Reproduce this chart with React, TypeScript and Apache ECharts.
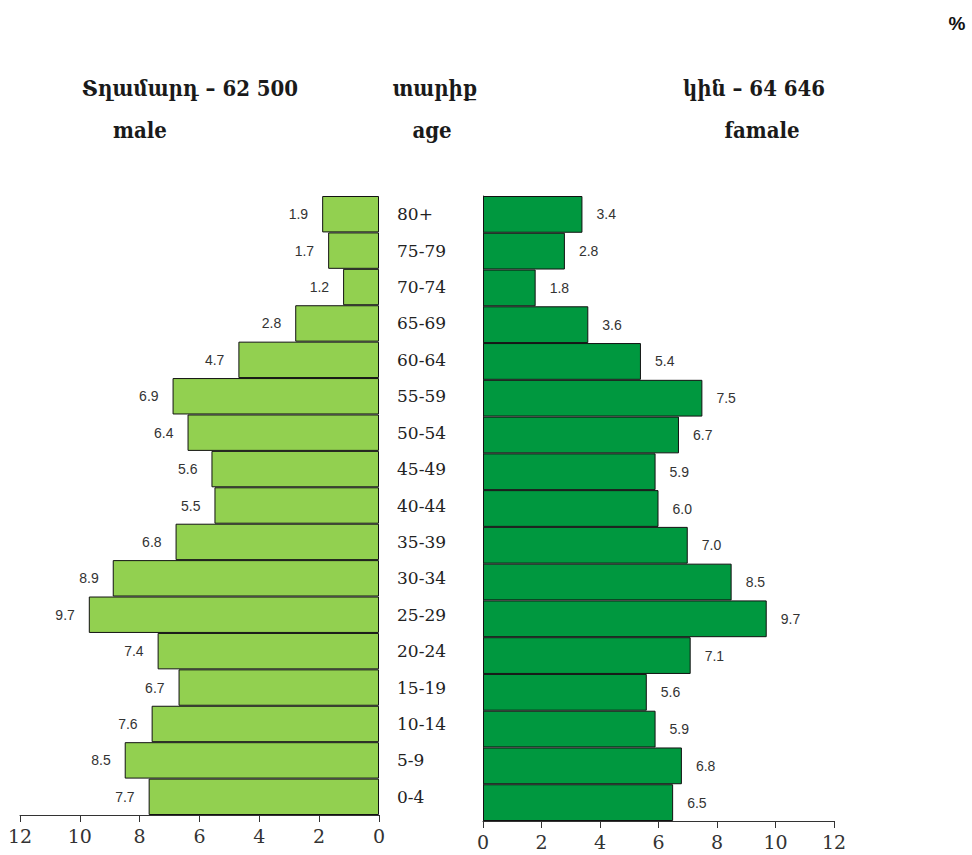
import React, { useEffect, useRef } from "react";
import * as echarts from "echarts";

const ageGroups = ["0-4", "5-9", "10-14", "15-19", "20-24", "25-29", "30-34", "35-39", "40-44", "45-49", "50-54", "55-59", "60-64", "65-69", "70-74", "75-79", "80+"];
const maleValues = [7.7, 8.5, 7.6, 6.7, 7.4, 9.7, 8.9, 6.8, 5.5, 5.6, 6.4, 6.9, 4.7, 2.8, 1.2, 1.7, 1.9];
const femaleValues = [6.5, 6.8, 5.9, 5.6, 7.1, 9.7, 8.5, 7.0, 6.0, 5.9, 6.7, 7.5, 5.4, 3.6, 1.8, 2.8, 3.4];
const maleTitle = "Տղամարդ – 62 500";
const ageTitle = "տարիք";
const femaleTitle = "կին – 64 646";
const maleSub = "male";
const ageSub = "age";
const femaleSub = "famale";
const unitLabel = "%";

const SERIF = "'DejaVu Serif', 'Liberation Serif', serif";
const TITLE_FONT = "'DejaVu Serif Condensed', 'DejaVu Serif', serif";
const SANS = "'Liberation Sans', Arial, sans-serif";

export default function App() {
  const ref = useRef<HTMLDivElement>(null);
  useEffect(() => {
    if (!ref.current) return;
    const chart = echarts.init(ref.current, null, { renderer: "svg" });
    const titleStyle = (text: string, x: number, y: number) => ({
      type: "text",
      x,
      y,
      style: {
        text,
        fill: "#1a1a1a",
        font: `bold 22px ${TITLE_FONT}`,
        textAlign: "center",
        textVerticalAlign: "middle",
      },
    });
    const xAxisCommon = {
      type: "value",
      min: 0,
      max: 12,
      interval: 2,
      splitLine: { show: false },
      axisLine: { show: true, lineStyle: { color: "#333", width: 1 } },
      axisTick: { show: true, length: 7, lineStyle: { color: "#333" } },
      axisLabel: { color: "#333", fontFamily: SERIF, fontSize: 19, margin: 11 },
    };
    chart.setOption({
      animation: false,
      backgroundColor: "#ffffff",
      grid: [
        { left: 20, top: 196, width: 359, height: 619 },
        { left: 483, top: 196, width: 351, height: 625 },
      ],
      xAxis: [
        { ...xAxisCommon, gridIndex: 0, inverse: true },
        { ...xAxisCommon, gridIndex: 1 },
      ],
      yAxis: [
        {
          type: "category",
          gridIndex: 0,
          data: ageGroups,
          position: "right",
          axisLine: { show: false },
          axisTick: { show: false },
          axisLabel: {
            align: "left",
            margin: 18,
            color: "#222",
            fontFamily: SERIF,
            fontSize: 17,
          },
        },
        {
          type: "category",
          gridIndex: 1,
          data: ageGroups,
          axisLine: { show: true, lineStyle: { color: "#333" } },
          axisTick: { show: false },
          axisLabel: { show: false },
        },
      ],
      series: [
        {
          type: "bar",
          xAxisIndex: 0,
          yAxisIndex: 0,
          data: maleValues,
          barCategoryGap: "0%",
          itemStyle: { color: "#92d050", borderColor: "#111", borderWidth: 1 },
          label: {
            show: true,
            position: "left",
            distance: 14,
            color: "#333",
            fontFamily: SANS,
            fontSize: 14,
            formatter: (p: any) => Number(p.value).toFixed(1),
          },
        },
        {
          type: "bar",
          xAxisIndex: 1,
          yAxisIndex: 1,
          data: femaleValues,
          barCategoryGap: "0%",
          itemStyle: { color: "#00983f", borderColor: "#111", borderWidth: 1 },
          label: {
            show: true,
            position: "right",
            distance: 14,
            color: "#333",
            fontFamily: SANS,
            fontSize: 14,
            formatter: (p: any) => Number(p.value).toFixed(1),
          },
        },
      ],
      graphic: [
        titleStyle(maleTitle, 190, 88),
        titleStyle(maleSub, 140, 130),
        titleStyle(ageTitle, 435, 88),
        titleStyle(ageSub, 432, 130),
        titleStyle(femaleTitle, 754, 88),
        titleStyle(femaleSub, 762, 130),
        {
          type: "text",
          x: 957,
          y: 23,
          style: {
            text: unitLabel,
            fill: "#111",
            font: `bold 19px ${SANS}`,
            textAlign: "center",
            textVerticalAlign: "middle",
          },
        },
      ],
    });
    return () => chart.dispose();
  }, []);
  return (
    <div
      ref={ref}
      style={{ position: "fixed", left: 0, top: 0, width: 972, height: 855 }}
    />
  );
}
